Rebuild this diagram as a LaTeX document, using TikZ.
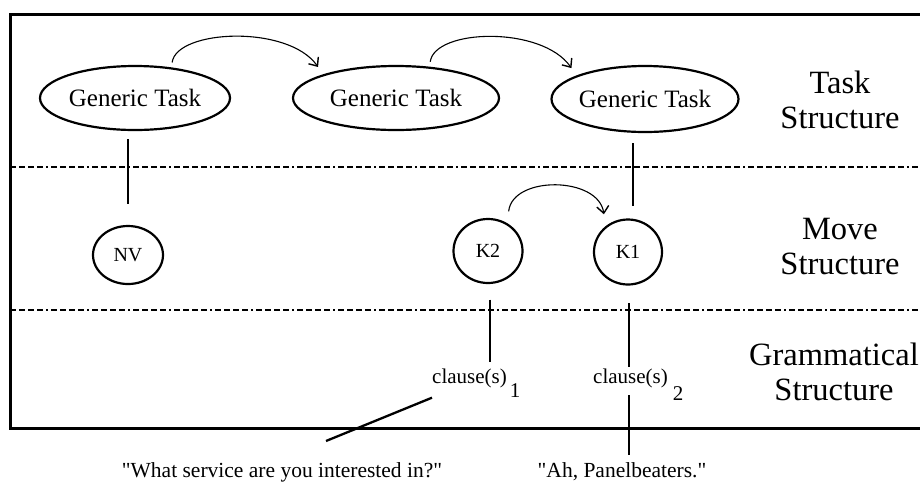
\documentclass[tikz,border=0pt]{standalone}
\usepackage{fontspec}
\setmainfont{Liberation Serif}[Ligatures=TeXOff]
\usetikzlibrary{shapes.geometric,arrows.meta}
\begin{document}
\begin{tikzpicture}[x=1pt,y=-1pt,
  task/.style={ellipse,draw,line width=2.2pt,inner sep=0pt,font=\fontsize{25}{30}\selectfont},
  movebox/.style={ellipse,draw,line width=2.2pt,inner sep=0pt,font=\fontsize{20}{24}\selectfont},
  lbl/.style={align=center,inner sep=0pt,font=\fontsize{32.5}{35}\selectfont},
  small/.style={inner sep=0pt,font=\fontsize{21}{25}\selectfont},
  quote/.style={inner sep=0pt,font=\fontsize{21.5}{25}\selectfont},
  conn/.style={line width=2.3pt},
  arr/.style={line width=1.1pt,-{Straight Barb[length=7pt,width=12pt,line width=1.4pt]}},
  sep/.style={line width=2pt,dash pattern=on 6pt off 3pt on 6pt off 3pt on 6pt off 3pt on 6pt off 3pt on 2pt off 3pt}]
\useasboundingbox (0,0) rectangle (920,483);
\fill[white] (0,0) rectangle (920,483);
% frame
\draw[line width=3pt] (930,14) -- (10,14) -- (10,428) -- (930,428);
% separators
\draw[sep] (10,167) -- (925,167);
\draw[sep] (10,310) -- (925,310);
% task structure
\node[task,minimum width=190pt,minimum height=64pt] (gt1) at (135,98) {Generic Task};
\node[task,minimum width=206pt,minimum height=64pt] (gt2) at (396,98) {Generic Task};
\node[task,minimum width=186pt,minimum height=66pt] (gt3) at (645,99) {Generic Task};
% move structure
\node[movebox,minimum width=70pt,minimum height=58pt] (nv) at (128,255) {NV};
\node[movebox,minimum width=69pt,minimum height=64pt] (k2) at (488,251) {K2};
\node[movebox,minimum width=68pt,minimum height=65pt] (k1) at (628,252) {K1};
% grammatical structure
\node[small,anchor=base west] (c1) at (432,383) {clause(s)\hspace{3pt}\smash{\raisebox{-14pt}{1}}};
\node[small,anchor=base west] (c2) at (593,383) {clause(s)\hspace{5pt}\smash{\raisebox{-17pt}{2}}};
% quotes
\node[quote,anchor=base] (q1) at (282,477) {"What service are you interested in?"};
\node[quote,anchor=base] (q2) at (622,477) {"Ah, Panelbeaters."};
\coordinate (d1) at (326,441);
% labels
\node[lbl] (lt) at (840,99.5) {Task\\Structure};
\node[lbl] (lm) at (840,247) {Move\\Structure};
\node[lbl] (lg) at (834,372) {Grammatical\\Structure};
% arrows
\draw[arr,shorten <=5pt,shorten >=9pt] (gt1.40) .. controls +(5,-38) and +(-35,-50) .. (gt2.162);
\draw[arr,shorten <=5pt,shorten >=9pt] (gt2.43) .. controls +(5,-38) and +(-35,-50) .. (gt3.161);
\draw[arr,shorten <=12pt,shorten >=12pt] (k2.55) .. controls +(5,-48) and +(-7,-50) .. (k1.131);
% vertical connectors
\draw[conn,shorten <=8pt,shorten >=21pt] (nv.north |- gt1.south) -- (nv.north);
\draw[conn,shorten <=10pt,shorten >=12.5pt] ([xshift=5pt]k1.north |- gt3.south) -- ([xshift=5pt]k1.north);
\draw[conn,shorten <=15.5pt,shorten >=6.4pt] ([xshift=2pt]k2.south) -- ([xshift=2pt]k2.south |- c1.north);
\draw[conn,shorten <=17.5pt,shorten >=1.4pt] ([xshift=1pt]k1.south) -- ([xshift=1pt]k1.south |- c2.north);
\draw[conn] ([yshift=-10pt]c1.south west) -- (d1);
\draw[conn,shorten <=7.4pt,shorten >=7.3pt] ([xshift=1pt]k1.south |- c2.south) -- ([xshift=1pt]k1.south |- q2.north);
\end{tikzpicture}
\end{document}
